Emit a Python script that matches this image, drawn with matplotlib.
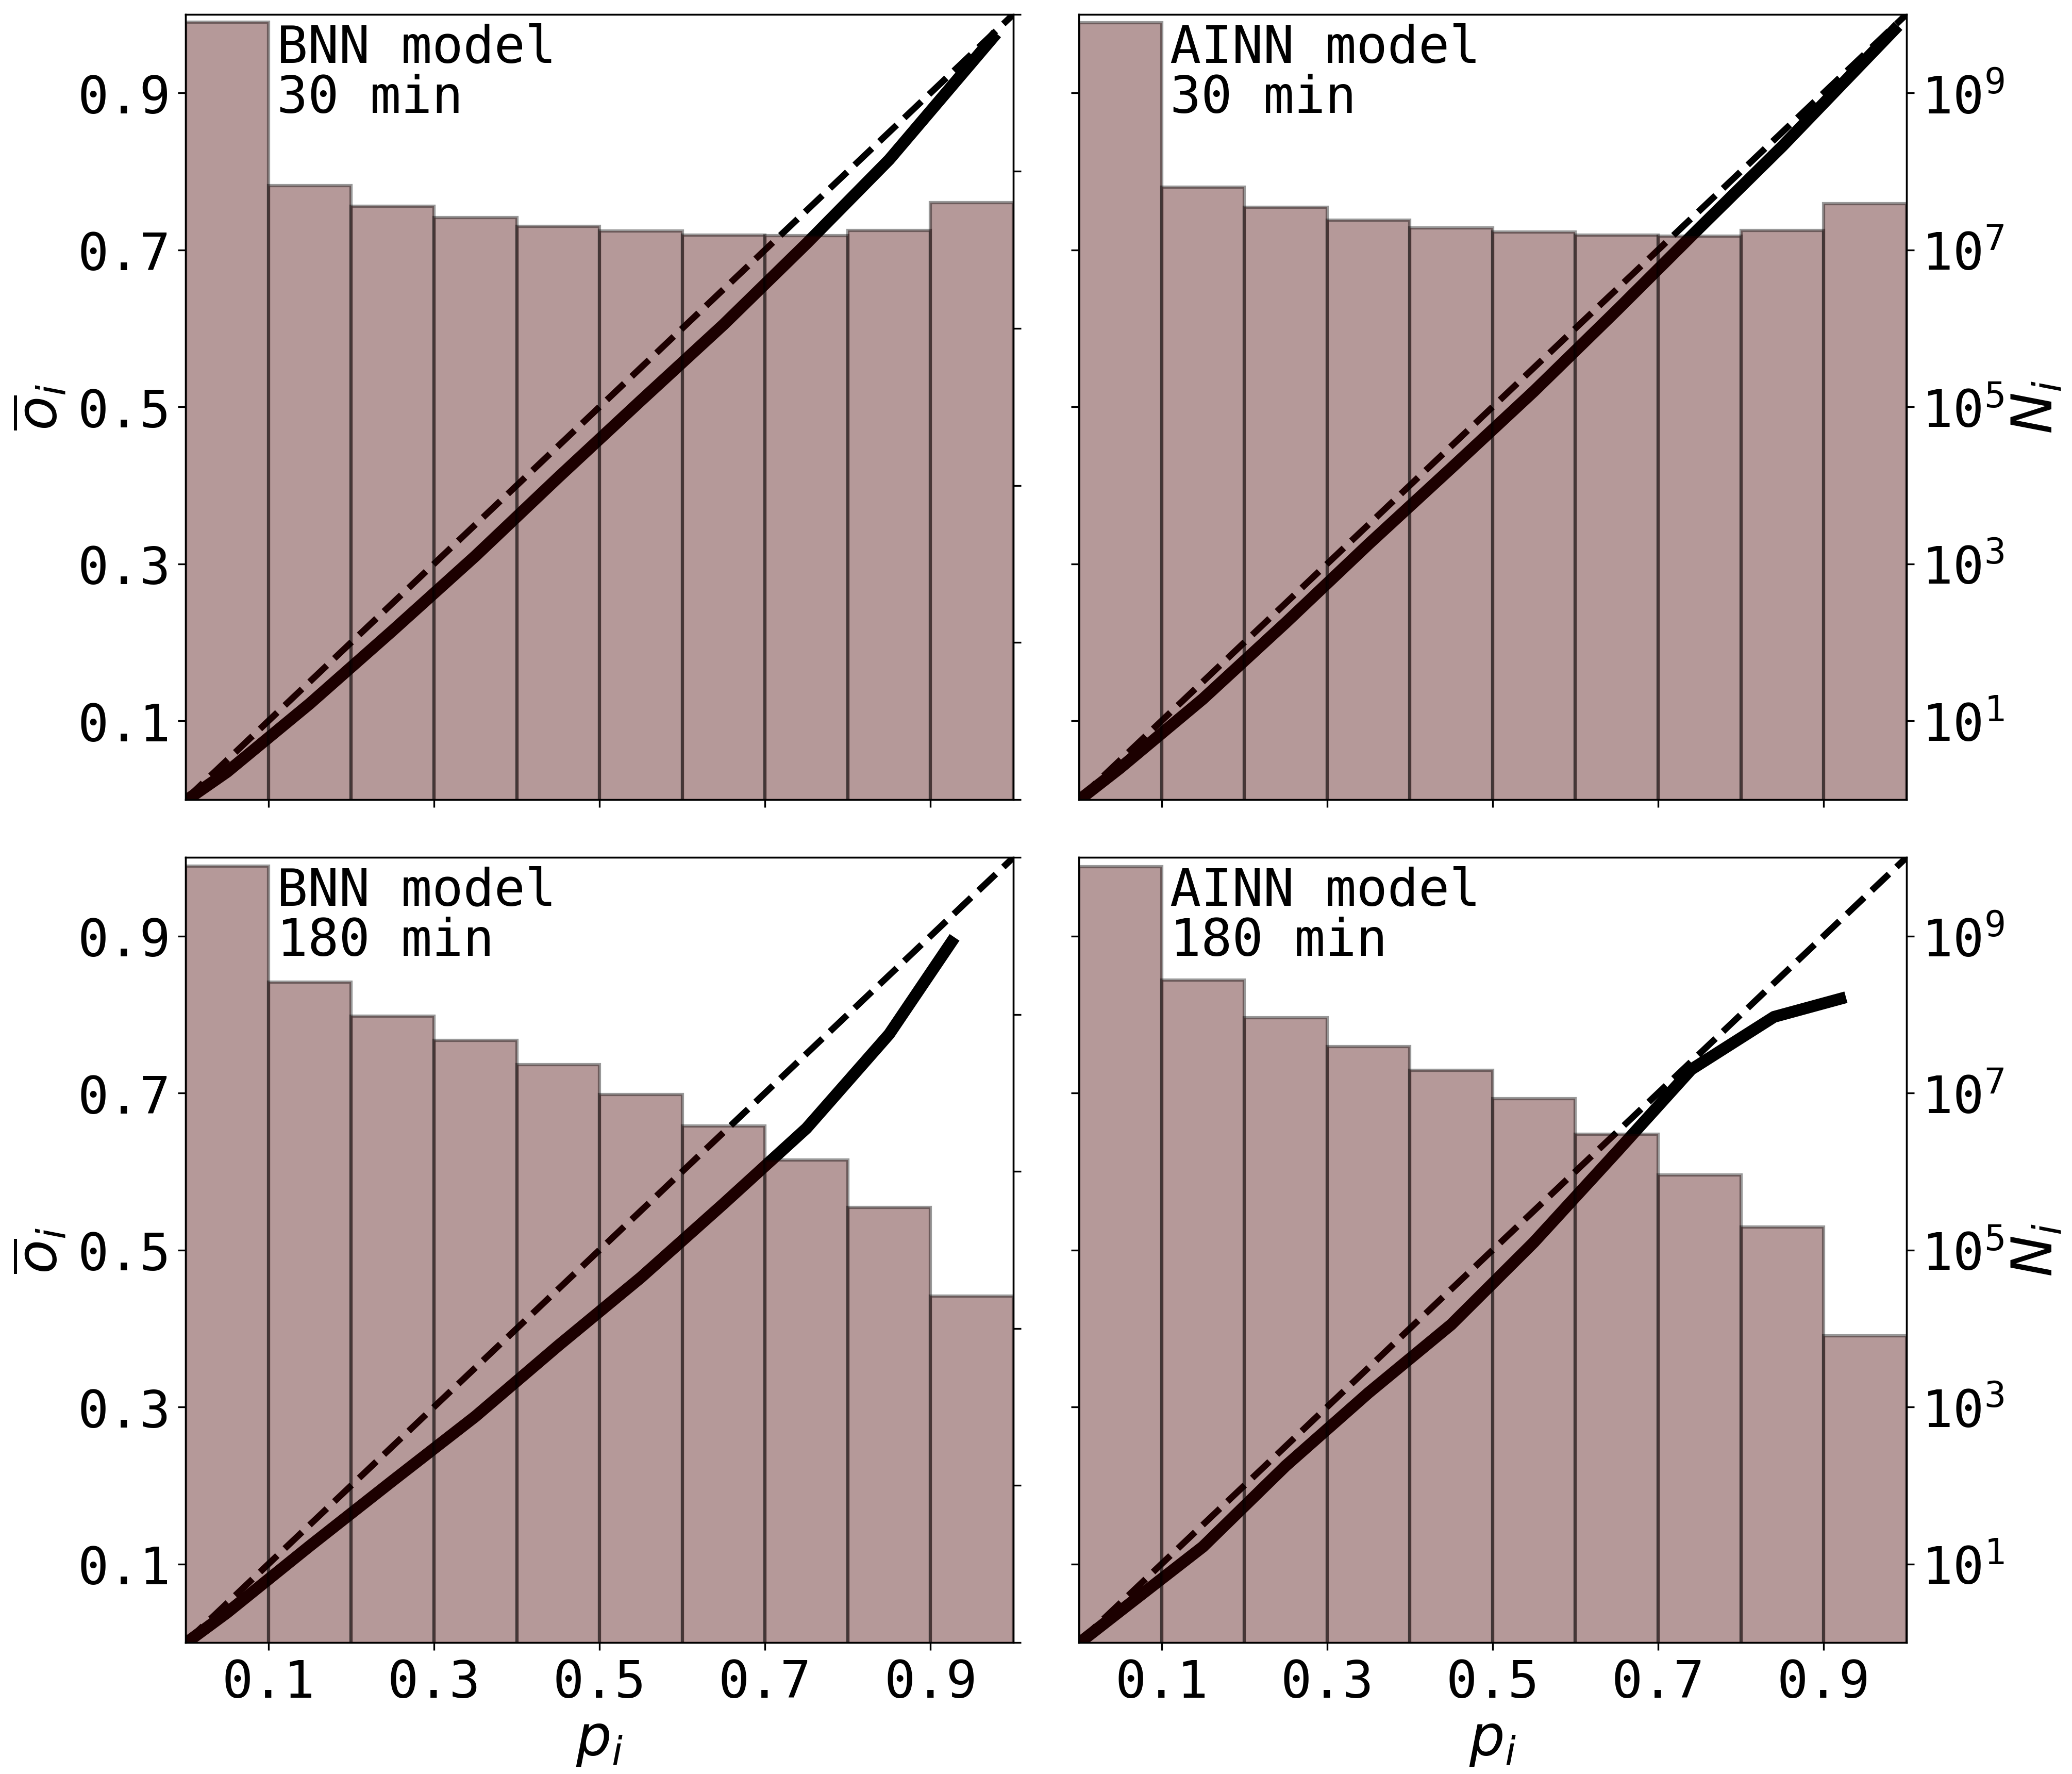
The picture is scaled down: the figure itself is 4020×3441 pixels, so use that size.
import numpy as np
import matplotlib
matplotlib.use('Agg')
import matplotlib.pyplot as plt
from matplotlib.ticker import NullLocator

plt.rcParams['font.family'] = 'DejaVu Sans Mono'

# bins of forecast probability
bin_edges = [0.0, 0.1, 0.2, 0.3, 0.4, 0.5, 0.6, 0.7, 0.8, 0.9]

# number of samples per bin (N_i)
bnn30_n = [8.0e9, 6.6e7, 3.6e7, 2.6e7, 2.0e7, 1.74e7, 1.55e7, 1.51e7, 1.78e7, 4.0e7]
ainn30_n = [7.85e9, 6.3e7, 3.5e7, 2.4e7, 1.9e7, 1.7e7, 1.55e7, 1.5e7, 1.78e7, 3.9e7]
bnn180_n = [7.8e9, 2.6e8, 9.5e7, 4.7e7, 2.3e7, 9.5e6, 3.8e6, 1.4e6, 3.5e5, 2.6e4]
ainn180_n = [7.6e9, 2.75e8, 9.1e7, 3.9e7, 1.95e7, 8.5e6, 3.0e6, 9.1e5, 1.95e5, 8.1e3]

# reliability curves (mean forecast p_i vs observed frequency o_i)
bnn30_p = [0.005, 0.05, 0.15, 0.25, 0.35, 0.45, 0.55, 0.65, 0.75, 0.85, 0.975]
bnn30_o = [0.002, 0.035, 0.122, 0.215, 0.31, 0.41, 0.508, 0.605, 0.708, 0.815, 0.97]
ainn30_p = [0.005, 0.05, 0.15, 0.25, 0.35, 0.45, 0.55, 0.65, 0.75, 0.85, 0.985]
ainn30_o = [0.003, 0.04, 0.128, 0.225, 0.325, 0.422, 0.52, 0.623, 0.728, 0.832, 0.98]
bnn180_p = [0.005, 0.05, 0.15, 0.25, 0.35, 0.45, 0.55, 0.65, 0.75, 0.85, 0.925]
bnn180_o = [0.003, 0.038, 0.123, 0.206, 0.288, 0.378, 0.465, 0.559, 0.655, 0.775, 0.892]
ainn180_p = [0.005, 0.05, 0.15, 0.25, 0.35, 0.45, 0.55, 0.65, 0.74, 0.84, 0.92]
ainn180_o = [0.003, 0.04, 0.122, 0.225, 0.318, 0.405, 0.51, 0.625, 0.73, 0.797, 0.82]

panels = [
    ('BNN model\n30 min', bnn30_p, bnn30_o, bnn30_n),
    ('AINN model\n30 min', ainn30_p, ainn30_o, ainn30_n),
    ('BNN model\n180 min', bnn180_p, bnn180_o, bnn180_n),
    ('AINN model\n180 min', ainn180_p, ainn180_o, ainn180_n),
]

ticks = [0.1, 0.3, 0.5, 0.7, 0.9]

fig, axes = plt.subplots(2, 2, figsize=(13.4, 11.4733), dpi=300)
fig.subplots_adjust(left=0.0896, right=0.9201, top=0.9916, bottom=0.0741,
                    wspace=0.079, hspace=0.074)

for k, (title, p, o, n) in enumerate(panels):
    ax = axes.flat[k]
    row, col = divmod(k, 2)

    ax.plot(p, o, color='k', lw=5.5)
    ax.set_xlim(0, 1)
    ax.set_ylim(0, 1)
    ax.set_xticks(ticks)
    ax.set_yticks(ticks)
    ax.tick_params(labelsize=24)

    ax2 = ax.twinx()
    ax2.set_yscale('log')
    ax2.bar(bin_edges, n, width=0.1, align='edge', color='#480000',
            alpha=0.4, edgecolor='k', linewidth=1.5)
    ax2.set_ylim(1, 1e10)
    ax2.tick_params(labelsize=24)

    # diagonal (perfect reliability), drawn under the bars
    ax.plot([0, 1], [0, 1], color='k', lw=3, ls='--')

    ax.text(0.11, 0.99, title, transform=ax.transAxes, va='top', ha='left',
            fontsize=24, linespacing=1.0)

    if col == 0:
        ax.set_ylabel(r'$\overline{o}_i$', fontsize=26)
        ax2.set_yticks([10.0 ** e for e in range(0, 11, 2)])
        ax2.tick_params(labelright=False)
    else:
        ax.tick_params(labelleft=False)
        ax2.set_yticks([10.0 ** e for e in range(1, 10, 2)])
        ax2.set_ylabel(r'$N_i$', fontsize=26, labelpad=2)
    ax2.yaxis.set_minor_locator(NullLocator())

    if row == 0:
        ax.tick_params(labelbottom=False)
    else:
        ax.set_xlabel(r'$p_i$', fontsize=26, labelpad=2)

fig.savefig('out.png', dpi=300)
